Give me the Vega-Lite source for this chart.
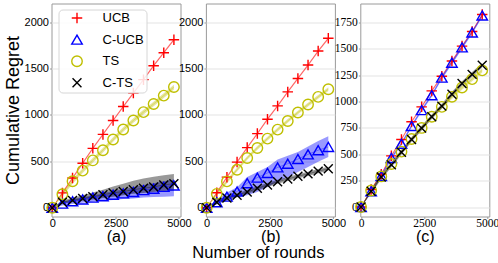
{
"$schema": "https://vega.github.io/schema/vega-lite/v6.json",
"padding": {"left": 3.5, "top": 2.5, "right": 1.5, "bottom": 0},
"bounds": "flush",
"spacing": 25.4,
"config": {
  "view": {"stroke": "#9a9a9a", "strokeWidth": 1},
  "axis": {"grid": false, "domain": false, "tickColor": "#9a9a9a", "tickSize": 2, "labelPadding": -0.5, "labelFlush": false, "labelColor": "#000", "titleColor": "#000", "labelFont": "Liberation Sans", "labelFontSize": 11, "titleFont": "Liberation Sans", "titleFontWeight": "normal", "titleFontSize": 16, "titlePadding": 0, "format": "d"},
  "axisX": {"titlePadding": -0.5, "labelPadding": -1},
  "axisY": {"grid": true, "gridColor": "#e3e3e3", "labelPadding": 1},
  "title": {"font": "Liberation Sans", "fontWeight": "normal", "color": "#000"},
  "legend": {"orient": "none", "legendX": 7, "legendY": 6, "padding": 2, "symbolOffset": 10, "labelOffset": 19, "rowPadding": 5.6, "symbolSize": 110, "symbolStrokeWidth": 1.4, "labelFont": "Liberation Sans", "labelFontSize": 13, "fillColor": "rgba(255,255,255,0.85)", "strokeColor": "#d6d6d6", "cornerRadius": 4}
},
"datasets": {
  "a": [
    {"s":"UCB","x":0,"m":0,"lo":0,"hi":0},{"s":"UCB","x":400,"m":160,"lo":148,"hi":172},{"s":"UCB","x":800,"m":320,"lo":308,"hi":332},{"s":"UCB","x":1200,"m":480,"lo":468,"hi":492},{"s":"UCB","x":1600,"m":640,"lo":628,"hi":652},{"s":"UCB","x":2000,"m":790,"lo":778,"hi":802},{"s":"UCB","x":2400,"m":940,"lo":928,"hi":952},{"s":"UCB","x":2800,"m":1090,"lo":1078,"hi":1102},{"s":"UCB","x":3200,"m":1235,"lo":1223,"hi":1247},{"s":"UCB","x":3600,"m":1380,"lo":1368,"hi":1392},{"s":"UCB","x":4000,"m":1530,"lo":1518,"hi":1542},{"s":"UCB","x":4400,"m":1670,"lo":1658,"hi":1682},{"s":"UCB","x":4800,"m":1810,"lo":1798,"hi":1822},
    {"s":"C-UCB","x":0,"m":0,"lo":0,"hi":0},{"s":"C-UCB","x":400,"m":45,"lo":25,"hi":65},{"s":"C-UCB","x":800,"m":70,"lo":40,"hi":95},{"s":"C-UCB","x":1200,"m":90,"lo":55,"hi":115},{"s":"C-UCB","x":1600,"m":110,"lo":65,"hi":135},{"s":"C-UCB","x":2000,"m":125,"lo":75,"hi":160},{"s":"C-UCB","x":2400,"m":140,"lo":85,"hi":180},{"s":"C-UCB","x":2800,"m":155,"lo":95,"hi":200},{"s":"C-UCB","x":3200,"m":170,"lo":100,"hi":220},{"s":"C-UCB","x":3600,"m":190,"lo":110,"hi":245},{"s":"C-UCB","x":4000,"m":205,"lo":115,"hi":265},{"s":"C-UCB","x":4400,"m":225,"lo":120,"hi":285},{"s":"C-UCB","x":4800,"m":240,"lo":125,"hi":305},
    {"s":"TS","x":0,"m":0,"lo":0,"hi":0},{"s":"TS","x":400,"m":145,"lo":120,"hi":170},{"s":"TS","x":800,"m":285,"lo":260,"hi":310},{"s":"TS","x":1200,"m":400,"lo":375,"hi":425},{"s":"TS","x":1600,"m":510,"lo":485,"hi":535},{"s":"TS","x":2000,"m":620,"lo":595,"hi":645},{"s":"TS","x":2400,"m":735,"lo":710,"hi":760},{"s":"TS","x":2800,"m":843,"lo":818,"hi":868},{"s":"TS","x":3200,"m":940,"lo":915,"hi":965},{"s":"TS","x":3600,"m":1030,"lo":1005,"hi":1055},{"s":"TS","x":4000,"m":1118,"lo":1093,"hi":1143},{"s":"TS","x":4400,"m":1208,"lo":1183,"hi":1233},{"s":"TS","x":4800,"m":1300,"lo":1275,"hi":1325},
    {"s":"C-TS","x":0,"m":0,"lo":0,"hi":0},{"s":"C-TS","x":400,"m":60,"lo":45,"hi":80},{"s":"C-TS","x":800,"m":80,"lo":60,"hi":105},{"s":"C-TS","x":1200,"m":100,"lo":75,"hi":135},{"s":"C-TS","x":1600,"m":120,"lo":90,"hi":165},{"s":"C-TS","x":2000,"m":140,"lo":105,"hi":195},{"s":"C-TS","x":2400,"m":160,"lo":120,"hi":230},{"s":"C-TS","x":2800,"m":175,"lo":135,"hi":260},{"s":"C-TS","x":3200,"m":195,"lo":150,"hi":290},{"s":"C-TS","x":3600,"m":210,"lo":160,"hi":315},{"s":"C-TS","x":4000,"m":225,"lo":170,"hi":335},{"s":"C-TS","x":4400,"m":245,"lo":180,"hi":350},{"s":"C-TS","x":4800,"m":260,"lo":185,"hi":365}
  ],
  "b": [
    {"s":"UCB","x":0,"m":0,"lo":0,"hi":0},{"s":"UCB","x":400,"m":162,"lo":150,"hi":174},{"s":"UCB","x":800,"m":330,"lo":318,"hi":342},{"s":"UCB","x":1200,"m":492,"lo":480,"hi":504},{"s":"UCB","x":1600,"m":648,"lo":636,"hi":660},{"s":"UCB","x":2000,"m":799,"lo":787,"hi":811},{"s":"UCB","x":2400,"m":954,"lo":942,"hi":966},{"s":"UCB","x":2800,"m":1097,"lo":1085,"hi":1109},{"s":"UCB","x":3200,"m":1248,"lo":1236,"hi":1260},{"s":"UCB","x":3600,"m":1393,"lo":1381,"hi":1405},{"s":"UCB","x":4000,"m":1537,"lo":1525,"hi":1549},{"s":"UCB","x":4400,"m":1688,"lo":1676,"hi":1700},{"s":"UCB","x":4800,"m":1825,"lo":1813,"hi":1837},
    {"s":"C-UCB","x":0,"m":0,"lo":0,"hi":0},{"s":"C-UCB","x":400,"m":60,"lo":35,"hi":85},{"s":"C-UCB","x":800,"m":120,"lo":75,"hi":165},{"s":"C-UCB","x":1200,"m":175,"lo":115,"hi":222},{"s":"C-UCB","x":1600,"m":265,"lo":135,"hi":331},{"s":"C-UCB","x":2000,"m":325,"lo":170,"hi":385},{"s":"C-UCB","x":2400,"m":375,"lo":225,"hi":440},{"s":"C-UCB","x":2800,"m":435,"lo":280,"hi":520},{"s":"C-UCB","x":3200,"m":475,"lo":330,"hi":560},{"s":"C-UCB","x":3600,"m":525,"lo":385,"hi":600},{"s":"C-UCB","x":4000,"m":575,"lo":440,"hi":660},{"s":"C-UCB","x":4400,"m":620,"lo":495,"hi":720},{"s":"C-UCB","x":4800,"m":655,"lo":547,"hi":770},
    {"s":"TS","x":0,"m":0,"lo":0,"hi":0},{"s":"TS","x":400,"m":150,"lo":130,"hi":170},{"s":"TS","x":800,"m":284,"lo":264,"hi":304},{"s":"TS","x":1200,"m":410,"lo":390,"hi":430},{"s":"TS","x":1600,"m":536,"lo":516,"hi":556},{"s":"TS","x":2000,"m":644,"lo":624,"hi":664},{"s":"TS","x":2400,"m":745,"lo":725,"hi":765},{"s":"TS","x":2800,"m":842,"lo":822,"hi":862},{"s":"TS","x":3200,"m":935,"lo":915,"hi":955},{"s":"TS","x":3600,"m":1026,"lo":1006,"hi":1046},{"s":"TS","x":4000,"m":1112,"lo":1092,"hi":1132},{"s":"TS","x":4400,"m":1194,"lo":1174,"hi":1214},{"s":"TS","x":4800,"m":1277,"lo":1257,"hi":1297},
    {"s":"C-TS","x":0,"m":0,"lo":0,"hi":0},{"s":"C-TS","x":400,"m":60,"lo":40,"hi":80},{"s":"C-TS","x":800,"m":105,"lo":85,"hi":125},{"s":"C-TS","x":1200,"m":135,"lo":113,"hi":157},{"s":"C-TS","x":1600,"m":170,"lo":148,"hi":192},{"s":"C-TS","x":2000,"m":210,"lo":188,"hi":232},{"s":"C-TS","x":2400,"m":245,"lo":223,"hi":267},{"s":"C-TS","x":2800,"m":280,"lo":258,"hi":302},{"s":"C-TS","x":3200,"m":310,"lo":288,"hi":332},{"s":"C-TS","x":3600,"m":340,"lo":318,"hi":362},{"s":"C-TS","x":4000,"m":365,"lo":343,"hi":387},{"s":"C-TS","x":4400,"m":395,"lo":373,"hi":417},{"s":"C-TS","x":4800,"m":420,"lo":398,"hi":442}
  ],
  "c": [
    {"s":"UCB","x":0,"m":0,"lo":0,"hi":0},{"s":"UCB","x":400,"m":165,"lo":155,"hi":175},{"s":"UCB","x":800,"m":310,"lo":300,"hi":320},{"s":"UCB","x":1200,"m":485,"lo":475,"hi":495},{"s":"UCB","x":1600,"m":640,"lo":630,"hi":650},{"s":"UCB","x":2000,"m":808,"lo":798,"hi":818},{"s":"UCB","x":2400,"m":950,"lo":940,"hi":960},{"s":"UCB","x":2800,"m":1101,"lo":1091,"hi":1111},{"s":"UCB","x":3200,"m":1240,"lo":1230,"hi":1250},{"s":"UCB","x":3600,"m":1384,"lo":1374,"hi":1394},{"s":"UCB","x":4000,"m":1526,"lo":1516,"hi":1536},{"s":"UCB","x":4400,"m":1665,"lo":1655,"hi":1675},{"s":"UCB","x":4800,"m":1825,"lo":1815,"hi":1835},
    {"s":"C-UCB","x":0,"m":0,"lo":0,"hi":0},{"s":"C-UCB","x":400,"m":150,"lo":135,"hi":165},{"s":"C-UCB","x":800,"m":295,"lo":280,"hi":310},{"s":"C-UCB","x":1200,"m":465,"lo":450,"hi":480},{"s":"C-UCB","x":1600,"m":600,"lo":585,"hi":615},{"s":"C-UCB","x":2000,"m":768,"lo":753,"hi":783},{"s":"C-UCB","x":2400,"m":919,"lo":904,"hi":934},{"s":"C-UCB","x":2800,"m":1060,"lo":1045,"hi":1075},{"s":"C-UCB","x":3200,"m":1227,"lo":1212,"hi":1242},{"s":"C-UCB","x":3600,"m":1369,"lo":1354,"hi":1384},{"s":"C-UCB","x":4000,"m":1514,"lo":1499,"hi":1529},{"s":"C-UCB","x":4400,"m":1655,"lo":1640,"hi":1670},{"s":"C-UCB","x":4800,"m":1816,"lo":1801,"hi":1831},
    {"s":"TS","x":0,"m":0,"lo":0,"hi":0},{"s":"TS","x":400,"m":157,"lo":137,"hi":177},{"s":"TS","x":800,"m":290,"lo":270,"hi":310},{"s":"TS","x":1200,"m":408,"lo":388,"hi":428},{"s":"TS","x":1600,"m":525,"lo":505,"hi":545},{"s":"TS","x":2000,"m":645,"lo":625,"hi":665},{"s":"TS","x":2400,"m":750,"lo":730,"hi":770},{"s":"TS","x":2800,"m":856,"lo":836,"hi":876},{"s":"TS","x":3200,"m":950,"lo":930,"hi":970},{"s":"TS","x":3600,"m":1045,"lo":1025,"hi":1065},{"s":"TS","x":4000,"m":1133,"lo":1113,"hi":1153},{"s":"TS","x":4400,"m":1213,"lo":1193,"hi":1233},{"s":"TS","x":4800,"m":1296,"lo":1276,"hi":1316},
    {"s":"C-TS","x":0,"m":0,"lo":0,"hi":0},{"s":"C-TS","x":400,"m":150,"lo":128,"hi":172},{"s":"C-TS","x":800,"m":285,"lo":263,"hi":307},{"s":"C-TS","x":1200,"m":400,"lo":378,"hi":422},{"s":"C-TS","x":1600,"m":520,"lo":498,"hi":542},{"s":"C-TS","x":2000,"m":640,"lo":618,"hi":662},{"s":"C-TS","x":2400,"m":748,"lo":726,"hi":770},{"s":"C-TS","x":2800,"m":856,"lo":834,"hi":878},{"s":"C-TS","x":3200,"m":957,"lo":935,"hi":979},{"s":"C-TS","x":3600,"m":1070,"lo":1048,"hi":1092},{"s":"C-TS","x":4000,"m":1171,"lo":1149,"hi":1193},{"s":"C-TS","x":4400,"m":1258,"lo":1236,"hi":1280},{"s":"C-TS","x":4800,"m":1344,"lo":1322,"hi":1366}
  ]
},
"hconcat": [
  {
    "width": 129, "height": 213,
    "data": {"name": "a"},
    "encoding": {"x": {"field": "x", "type": "quantitative", "scale": {"domain": [-30, 5060], "nice": false, "zero": false}, "axis": {"values": [0, 2500, 5000], "title": "(a)"}}},
    "layer": [
      {"mark": {"type": "area", "fillOpacity": 0.4},
       "encoding": {"y": {"field": "lo", "type": "quantitative", "scale": {"domain": [-94, 2200], "nice": false, "zero": false}, "axis": {"values": [0, 500, 1000, 1500, 2000], "title": "Cumulative Regret", "titleFontSize": 18, "titlePadding": 2}},
         "y2": {"field": "hi"},
         "fill": {"field": "s", "type": "nominal", "scale": {"domain": ["C-TS", "TS", "C-UCB", "UCB"], "range": ["#000000", "#bfbf00", "#0000ff", "#ff0000"]}, "legend": null}}},
      {"mark": {"type": "line", "strokeWidth": 1, "strokeOpacity": 0.35},
       "encoding": {"y": {"field": "m", "type": "quantitative", "scale": {"domain": [-94, 2200], "nice": false, "zero": false}, "axis": {"values": [0, 500, 1000, 1500, 2000], "title": "Cumulative Regret", "titleFontSize": 18, "titlePadding": 2}},
         "stroke": {"field": "s", "type": "nominal", "scale": {"domain": ["TS", "C-TS", "UCB", "C-UCB"], "range": ["#bfbf00", "#000000", "#ff0000", "#0000ff"]}, "legend": null}}},
      {"mark": {"type": "point", "filled": false, "strokeWidth": 1.4, "size": 110, "opacity": 1},
       "encoding": {"y": {"field": "m", "type": "quantitative", "scale": {"domain": [-94, 2200], "nice": false, "zero": false}, "axis": {"values": [0, 500, 1000, 1500, 2000], "title": "Cumulative Regret", "titleFontSize": 18, "titlePadding": 2}},
         "color": {"field": "s", "type": "nominal", "scale": {"domain": ["UCB", "C-UCB", "TS", "C-TS"], "range": ["#ff0000", "#0000ff", "#bfbf00", "#000000"]}, "legend": {"title": null}},
         "shape": {"field": "s", "type": "nominal", "scale": {"domain": ["UCB", "C-UCB", "TS", "C-TS"], "range": ["M-1,0L1,0M0,-1L0,1", "triangle-up", "circle", "M-0.85,-0.85L0.85,0.85M0.85,-0.85L-0.85,0.85"]}, "legend": {"title": null}}}}
    ]
  },
  {
    "width": 129, "height": 213,
    "data": {"name": "b"},
    "title": {"text": "Number of rounds", "orient": "bottom", "frame": "group", "anchor": "middle", "dx": -12, "fontSize": 16.5, "offset": 1},
    "encoding": {"x": {"field": "x", "type": "quantitative", "scale": {"domain": [-30, 5060], "nice": false, "zero": false}, "axis": {"values": [0, 2500, 5000], "title": "(b)"}}},
    "layer": [
      {"mark": {"type": "area", "fillOpacity": 0.4},
       "encoding": {"y": {"field": "lo", "type": "quantitative", "scale": {"domain": [-94, 2200], "nice": false, "zero": false}, "axis": {"values": [0, 500, 1000, 1500, 2000], "title": null}},
         "y2": {"field": "hi"},
         "fill": {"field": "s", "type": "nominal", "legend": null}}},
      {"mark": {"type": "line", "strokeWidth": 1, "strokeOpacity": 0.35},
       "encoding": {"y": {"field": "m", "type": "quantitative", "scale": {"domain": [-94, 2200], "nice": false, "zero": false}, "axis": {"values": [0, 500, 1000, 1500, 2000], "title": null}},
         "stroke": {"field": "s", "type": "nominal", "legend": null}}},
      {"mark": {"type": "point", "filled": false, "strokeWidth": 1.4, "size": 110, "opacity": 1},
       "encoding": {"y": {"field": "m", "type": "quantitative", "scale": {"domain": [-94, 2200], "nice": false, "zero": false}, "axis": {"values": [0, 500, 1000, 1500, 2000], "title": null}},
         "color": {"field": "s", "type": "nominal", "legend": {"title": null}},
         "shape": {"field": "s", "type": "nominal", "legend": {"title": null}}}}
    ]
  },
  {
    "width": 129, "height": 213,
    "data": {"name": "c"},
    "encoding": {"x": {"field": "x", "type": "quantitative", "scale": {"domain": [-30, 5080], "nice": false, "zero": false}, "axis": {"values": [0, 2500, 5000], "title": "(c)", "labelFont": "Liberation Serif", "labelFontSize": 11.5}}},
    "layer": [
      {"mark": {"type": "area", "fillOpacity": 0.4},
       "encoding": {"y": {"field": "lo", "type": "quantitative", "scale": {"domain": [-90, 1930], "nice": false, "zero": false}, "axis": {"values": [0, 250, 500, 750, 1000, 1250, 1500, 1750], "title": null, "labelFont": "Liberation Serif", "labelFontSize": 11.5}},
         "y2": {"field": "hi"},
         "fill": {"field": "s", "type": "nominal", "legend": null}}},
      {"mark": {"type": "line", "strokeWidth": 1, "strokeOpacity": 0.35},
       "encoding": {"y": {"field": "m", "type": "quantitative", "scale": {"domain": [-90, 1930], "nice": false, "zero": false}, "axis": {"values": [0, 250, 500, 750, 1000, 1250, 1500, 1750], "title": null, "labelFont": "Liberation Serif", "labelFontSize": 11.5}},
         "stroke": {"field": "s", "type": "nominal", "legend": null}}},
      {"mark": {"type": "point", "filled": false, "strokeWidth": 1.4, "size": 110, "opacity": 1},
       "encoding": {"y": {"field": "m", "type": "quantitative", "scale": {"domain": [-90, 1930], "nice": false, "zero": false}, "axis": {"values": [0, 250, 500, 750, 1000, 1250, 1500, 1750], "title": null, "labelFont": "Liberation Serif", "labelFontSize": 11.5}},
         "color": {"field": "s", "type": "nominal", "legend": {"title": null}},
         "shape": {"field": "s", "type": "nominal", "legend": {"title": null}}}}
    ]
  }
],
"resolve": {"scale": {"x": "independent", "y": "independent", "color": "shared", "shape": "shared", "fill": "shared", "stroke": "shared"}, "axis": {"x": "independent", "y": "independent"}}
}
